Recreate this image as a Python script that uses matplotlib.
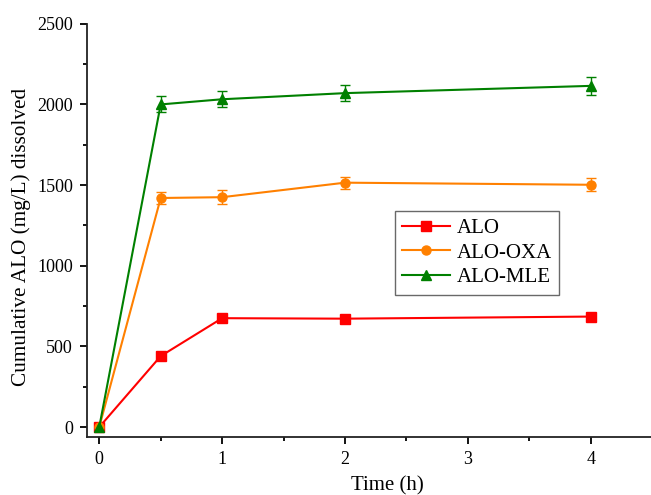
import matplotlib
matplotlib.use("Agg")
import matplotlib.pyplot as plt
from matplotlib.ticker import MultipleLocator

# data
time_h = [0, 0.5, 1, 2, 4]
alo = [0, 440, 675, 672, 685]
alo_err = [0, 15, 25, 25, 25]
alo_oxa = [0, 1420, 1425, 1515, 1502]
alo_oxa_err = [0, 35, 45, 38, 40]
alo_mle = [0, 2000, 2032, 2070, 2115]
alo_mle_err = [0, 50, 50, 50, 55]

plt.rcParams["font.family"] = ["Liberation Serif", "DejaVu Serif"]

fig = plt.figure(figsize=(6.51, 4.95), dpi=100)
ax = fig.add_axes([0.1336, 0.117, 0.8664, 0.835])

series = [
    ("ALO", alo, alo_err, "#ff0000", "s"),
    ("ALO-OXA", alo_oxa, alo_oxa_err, "#ff8000", "o"),
    ("ALO-MLE", alo_mle, alo_mle_err, "#008000", "^"),
]
handles, names = [], []
for name, y, err, col, mk in series:
    cont = ax.errorbar(time_h, y, yerr=err, color=col, marker=mk,
                       markersize=6.5, linewidth=1.5, capsize=3.5,
                       elinewidth=1.0, capthick=1.0)
    handles.append(cont[0])
    names.append(name)

ax.set_xlim(-0.1, 4.49)
ax.set_ylim(-62, 2500)
ax.xaxis.set_major_locator(MultipleLocator(1))
ax.xaxis.set_minor_locator(MultipleLocator(0.5))
ax.yaxis.set_major_locator(MultipleLocator(500))
ax.yaxis.set_minor_locator(MultipleLocator(250))

ax.spines["top"].set_visible(False)
ax.spines["right"].set_visible(False)
for s in ("left", "bottom"):
    ax.spines[s].set_linewidth(1.3)
    ax.spines[s].set_color("#222222")
ax.tick_params(which="major", direction="out", length=5, width=1.3,
               labelsize=13, pad=5)
ax.tick_params(which="minor", direction="out", length=3, width=1.3)

ax.set_xlabel("Time (h)", fontsize=15)
ax.xaxis.set_label_coords(0.532, -0.095)
ax.set_ylabel("Cumulative ALO (mg/L) dissolved", fontsize=15.3)
ax.yaxis.set_label_coords(-0.1, 0.484)

leg = ax.legend(handles, names, loc="upper left",
                bbox_to_anchor=(395 / 651, 1 - 211 / 495),
                bbox_transform=fig.transFigure, borderaxespad=0,
                fontsize=15, frameon=True, fancybox=False,
                handlelength=2.3, borderpad=0.35, labelspacing=0.25,
                handletextpad=0.3)
leg.get_frame().set_edgecolor("#444444")
leg.get_frame().set_linewidth(1.0)

fig.savefig("out.png", dpi=100)
